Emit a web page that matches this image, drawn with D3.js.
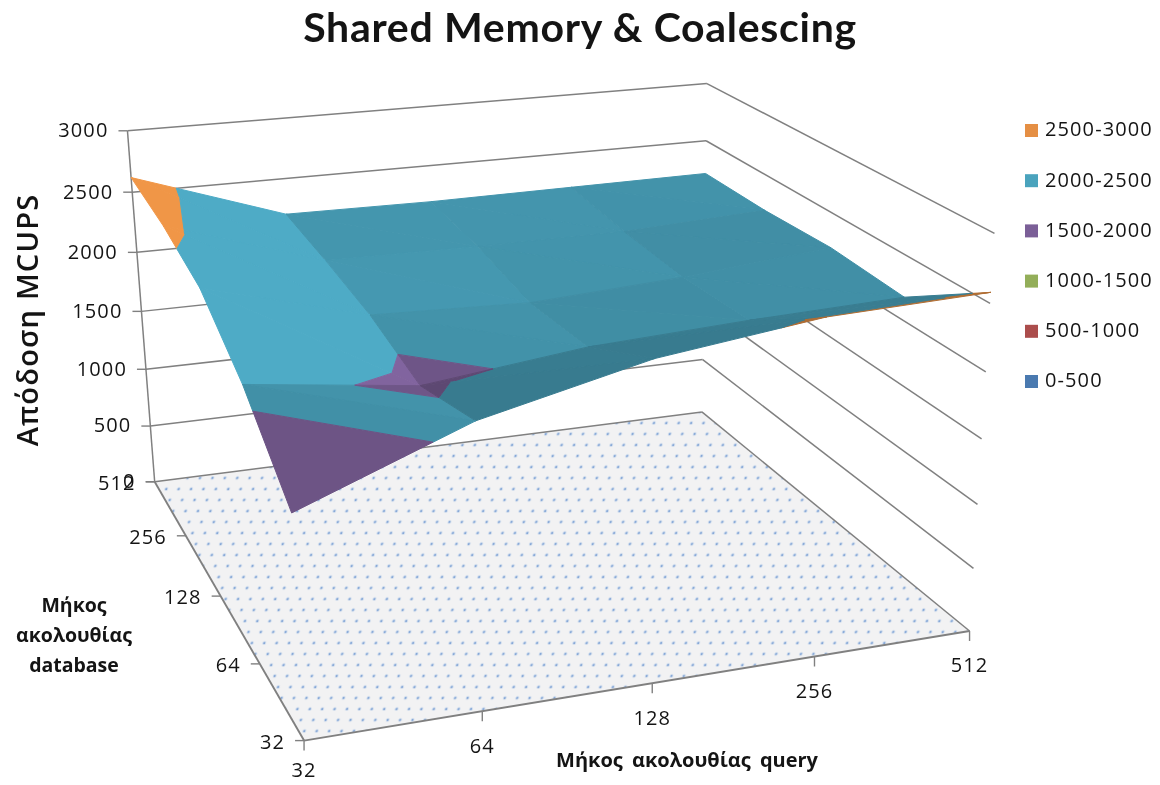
<!DOCTYPE html>
<html>
<head>
<meta charset="utf-8">
<script src="https://cdn.jsdelivr.net/npm/d3@7"></script>
<style>
  html, body { margin: 0; padding: 0; background: #fff; }
  svg { filter: blur(0.4px); }
  text { font-family: "Open Sans", "Noto Sans", sans-serif; fill: #141414; }
</style>
</head>
<body>
<div class="container"></div>
<script>
var width = 1160,
    height = 785;

// chart values
var queryLengths = [32, 64, 128, 256, 512];
var dbLengths = [512, 256, 128, 64, 32];
var perfDb512 = [2620, 2200, 2190, 2200, 2210];
var perfDb256 = [2550, 2150, 2140, 2140, 2200];
var perfDb128 = [2420, 2080, 2040, 2110, 2220];
var perfDb64 = [2100, 1940, 2080, 2140, 2180];
var perfDb32 = [1640, 2110, 2390, 2540, 2580];
var perfRows = [perfDb512, perfDb256, perfDb128, perfDb64, perfDb32];

var bandLabels = ['2500-3000', '2000-2500', '1500-2000', '1000-1500', '500-1000', '0-500'];
var bandLows = [2500, 2000, 1500, 1000, 500, 0];
var bandColors = ['#e58f44', '#4aa3bd', '#7b5f97', '#93ae59', '#ab4d4c', '#4a7ab0'];

var xScale = d3.scalePoint().domain(queryLengths).range([0, 1]);
var yScale = d3.scalePoint().domain(dbLengths).range([0, 1]);
var zScale = d3.scaleLinear().domain([0, 3000]).range([0, 1]);

// where the corners of the plot box sit on the page: [x, y, z, screenX, screenY]
var anchors = [
    [0, 0, 0, 155, 483],
    [1, 0, 0, 702, 412],
    [1, 1, 0, 970, 630],
    [0, 1, 0, 303, 740],
    [0, 0, 1, 128, 130],
    [1, 0, 1, 706, 83],
    [1, 1, 1, 995, 235]
];

var solve = (A, b) => {
    var n = b.length;
    var m = A.map((row, i) => row.concat(b[i]));
    for (var i = 0; i < n; i++) {
        var p = i;
        for (var r = i + 1; r < n; r++) if (Math.abs(m[r][i]) > Math.abs(m[p][i])) p = r;
        var t = m[i]; m[i] = m[p]; m[p] = t;
        for (var r = 0; r < n; r++) {
            if (r === i) continue;
            var f = m[r][i] / m[i][i];
            for (var c = i; c <= n; c++) m[r][c] -= f * m[i][c];
        }
    }
    return m.map((row, i) => row[n] / row[i]);
}

// least squares perspective camera through the anchors
var fitCamera = (pts) => {
    var rows = [], rhs = [];
    pts.forEach((p) => {
        var x = p[0], y = p[1], z = p[2], sx = p[3], sy = p[4];
        rows.push([x, y, z, 1, 0, 0, 0, 0, -sx * x, -sx * y, -sx * z]); rhs.push(sx);
        rows.push([0, 0, 0, 0, x, y, z, 1, -sy * x, -sy * y, -sy * z]); rhs.push(sy);
    });
    var n = 11;
    var AtA = d3.range(n).map((i) => d3.range(n).map((j) => d3.sum(rows, (r) => r[i] * r[j])));
    var Atb = d3.range(n).map((i) => d3.sum(rows, (r, k) => r[i] * rhs[k]));
    return solve(AtA, Atb);
}

var cam = fitCamera(anchors);
var depth = (x, y, z) => cam[8] * x + cam[9] * y + cam[10] * z + 1;
var project = (x, y, z) => {
    var w = depth(x, y, z);
    return [(cam[0] * x + cam[1] * y + cam[2] * z + cam[3]) / w,
            (cam[4] * x + cam[5] * y + cam[6] * z + cam[7]) / w];
}

var svg = d3.select('.container').append('svg')
    .attr('width', width)
    .attr('height', height)
    .style('display', 'block');

var line = d3.line();
var segment = (a, b) => line([project(a[0], a[1], a[2]), project(b[0], b[1], b[2])]);

var drawPattern = () => {
    var pattern = svg.append('defs').append('pattern')
        .attr('id', 'floorDots')
        .attr('patternUnits', 'userSpaceOnUse')
        .attr('width', 12.4)
        .attr('height', 22)
        .attr('patternTransform', 'skewX(-14)');
    pattern.append('rect').attr('width', 12.4).attr('height', 22).attr('fill', '#f2f2f3');
    [[3, 5], [9.2, 16]].forEach((d) => {
        pattern.append('circle').attr('cx', d[0]).attr('cy', d[1]).attr('r', 1.8).attr('fill', '#cad9ec');
        pattern.append('circle').attr('cx', d[0]).attr('cy', d[1]).attr('r', 0.9).attr('fill', '#6f97d0');
    });
}

var drawFloor = () => {
    var corners = [[0, 0], [1, 0], [1, 1], [0, 1]].map((d) => project(d[0], d[1], 0));
    svg.append('path')
        .attr('d', line(corners) + 'Z')
        .attr('fill', 'url(#floorDots)');
}

var drawWalls = () => {
    var g = svg.append('g')
        .attr('fill', 'none')
        .attr('stroke', '#808080')
        .attr('stroke-width', 1.5);
    var ticks = zScale.ticks(6);
    g.selectAll('.left').data(ticks).enter().append('path')
        .attr('d', (d) => segment([0, 0, zScale(d)], [1, 0, zScale(d)]));
    g.selectAll('.right').data(ticks).enter().append('path')
        .attr('d', (d) => segment([1, 0, zScale(d)], [1, 1, zScale(d)]));
    // axis lines
    g.append('path').attr('d', segment([0, 0, 0], [0, 0, 1]));
    g.append('path').attr('d', segment([0, 0, 0], [0, 1, 0])).attr('stroke-width', 1.9);
    g.append('path').attr('d', segment([0, 1, 0], [1, 1, 0])).attr('stroke-width', 1.9);
}

var drawAxes = () => {
    var g = svg.append('g');
    var ticks = g.append('g').attr('stroke', '#808080').attr('stroke-width', 1.4).attr('fill', 'none');

    // value axis
    zScale.ticks(6).forEach((d) => {
        var p = project(0, 0, zScale(d));
        ticks.append('path').attr('d', line([[p[0] - 9, p[1]], p]));
        g.append('text')
            .attr('x', p[0] - 19)
            .attr('y', p[1] + 1)
            .attr('text-anchor', 'end')
            .attr('dominant-baseline', 'middle')
            .style('font-size', '20px')
            .style('letter-spacing', '1.1px')
            .text(d);
    });

    // database axis
    dbLengths.forEach((d) => {
        var p = project(0, yScale(d), 0);
        ticks.append('path').attr('d', line([[p[0] - 9, p[1]], p]));
        g.append('text')
            .attr('x', p[0] - 19)
            .attr('y', p[1] + 3)
            .attr('text-anchor', 'end')
            .attr('dominant-baseline', 'middle')
            .style('font-size', '20px')
            .style('letter-spacing', '1.1px')
            .text(d);
    });

    // query axis
    queryLengths.forEach((d) => {
        var p = project(xScale(d), 1, 0);
        ticks.append('path').attr('d', line([p, [p[0], p[1] + 10]]));
        g.append('text')
            .attr('x', p[0])
            .attr('y', Math.min(p[1] + 36, 772))
            .attr('text-anchor', 'middle')
            .attr('dominant-baseline', 'middle')
            .style('font-size', '20px')
            .style('letter-spacing', '1.1px')
            .text(d);
    });
}

// keep the part of a triangle lying between two values
var clipBand = (poly, lo, hi) => {
    var clip = (pts, keep, level) => {
        var out = [];
        pts.forEach((a, i) => {
            var b = pts[(i + 1) % pts.length];
            if (keep(a[2])) out.push(a);
            if (keep(a[2]) !== keep(b[2])) {
                var t = (level - a[2]) / (b[2] - a[2]);
                out.push([a[0] + t * (b[0] - a[0]), a[1] + t * (b[1] - a[1]), level]);
            }
        });
        return out;
    };
    var low = clip(poly, (v) => v >= lo, lo);
    return low.length ? clip(low, (v) => v <= hi, hi) : [];
}

var shadeOf = (dhdu, dhdv) => Math.min(1.05, 0.9 - dhdu * 0.00033 - dhdv * 0.0003);

var drawSurface = () => {
    var g = svg.append('g');
    var tris = [];
    var vertex = (i, j) => [xScale(queryLengths[i]), yScale(dbLengths[j]), perfRows[j][i]];
    d3.range(4).forEach((j) => {
        d3.range(4).forEach((i) => {
            var a = vertex(i, j), b = vertex(i + 1, j), c = vertex(i + 1, j + 1), d = vertex(i, j + 1);
            tris.push({ pts: [a, b, c], shade: shadeOf(b[2] - a[2], c[2] - b[2]) });
            tris.push({ pts: [a, c, d], shade: shadeOf(c[2] - d[2], d[2] - a[2]) });
        });
    });
    tris.forEach((t) => {
        t.depth = d3.mean(t.pts, (p) => depth(p[0], p[1], zScale(p[2])));
    });
    tris.sort((a, b) => b.depth - a.depth);

    tris.forEach((t) => {
        bandLows.forEach((lo, k) => {
            var poly = clipBand(t.pts, lo, lo + 500);
            if (poly.length < 3) return;
            var color = d3.rgb(bandColors[k]);
            var fill = d3.rgb(color.r * t.shade, color.g * t.shade, color.b * t.shade) + '';
            g.append('path')
                .attr('d', line(poly.map((p) => project(p[0], p[1], zScale(p[2])))) + 'Z')
                .attr('fill', fill)
                .attr('stroke', fill)
                .attr('stroke-width', 1)
                .attr('stroke-linejoin', 'round');
        });
    });
}

var drawLegend = () => {
    var rowY = d3.scalePoint().domain(bandLabels).range([131, 382]);
    var item = svg.append('g').selectAll('g').data(bandLabels).enter().append('g')
        .attr('transform', (d) => 'translate(1025,' + rowY(d) + ')');
    item.append('rect')
        .attr('y', -7)
        .attr('width', 13)
        .attr('height', 13)
        .attr('fill', (_, i) => bandColors[i]);
    item.append('text')
        .attr('x', 20)
        .attr('dominant-baseline', 'middle')
        .style('font-size', '20px')
        .style('letter-spacing', '1.1px')
        .text((d) => d);
}

var drawTitles = () => {
    svg.append('text')
        .attr('x', 580)
        .attr('y', 42)
        .attr('text-anchor', 'middle')
        .style('font-family', 'Lato, "Open Sans", sans-serif')
        .style('font-weight', 700)
        .style('font-size', '41px')
        .style('letter-spacing', '0.7px')
        .text('Shared Memory & Coalescing');

    svg.append('text')
        .attr('transform', 'translate(38,320) rotate(-90)')
        .attr('text-anchor', 'middle')
        .style('font-size', '29px')
        .style('font-weight', 600)
        .style('letter-spacing', '1.2px')
        .text('Απόδοση MCUPS');

    svg.append('text')
        .attr('x', 687)
        .attr('y', 767)
        .attr('text-anchor', 'middle')
        .style('font-weight', 700)
        .style('font-size', '20px')
        .style('word-spacing', '4px')
        .text('Μήκος ακολουθίας query');

    var dbTitle = ['Μήκος', 'ακολουθίας', 'database'];
    svg.append('g').selectAll('text').data(dbTitle).enter().append('text')
        .attr('x', 74)
        .attr('y', (_, i) => 612 + i * 30)
        .attr('text-anchor', 'middle')
        .style('font-weight', 700)
        .style('font-size', '19.5px')
        .text((d) => d);
}

window.onload = () => {
    drawPattern();
    drawFloor();
    drawWalls();
    drawSurface();
    drawAxes();
    drawLegend();
    drawTitles();
}
</script>
</body>
</html>
